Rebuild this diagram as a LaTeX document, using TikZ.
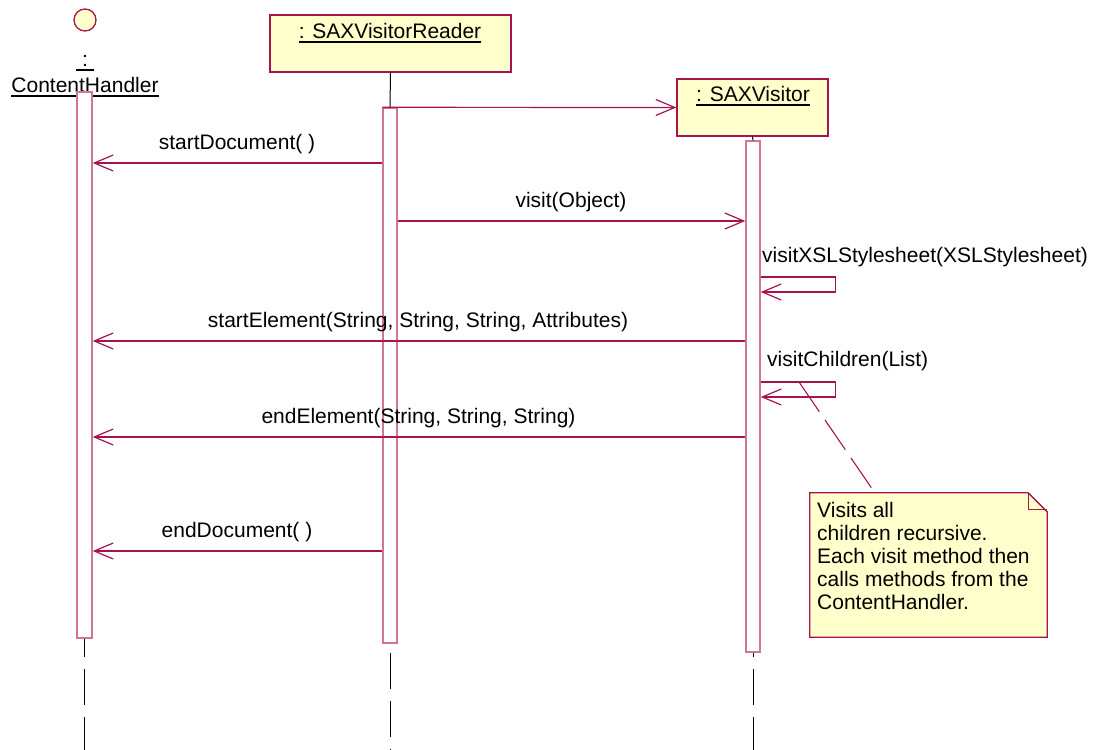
\documentclass[tikz,border=0pt]{standalone}
\usepackage{fontspec}
\setmainfont{Liberation Sans}
\usetikzlibrary{arrows.meta,calc}

\definecolor{umlred}{HTML}{A8124E}
\definecolor{actpink}{HTML}{CF7596}
\definecolor{umlfill}{HTML}{FFFFCC}

\tikzset{
  txt/.style={inner sep=0pt, font=\fontsize{21}{23}\selectfont},
  headbox/.style={draw=umlred, fill=umlfill, line width=1.3pt, inner sep=0pt},
  actbar/.style={draw=actpink, fill=white, line width=1.4pt, inner sep=0pt, minimum width=14pt},
  ulline/.style={black, line width=1.6pt},
  msg/.style={draw=umlred, line width=1.2pt, -{Straight Barb[length=19pt,width=16pt]}},
  selfmsg/.style={draw=umlred, line width=1.2pt, -{Straight Barb[length=19pt,width=16pt]}},
  lifeline/.style={black, line width=1pt},
  lifedash/.style={black, line width=1pt, dash pattern=on 36pt off 12pt},
  notelink/.style={umlred, line width=1.1pt, dash pattern=on 36pt off 10pt},
}

\begin{document}
\begin{tikzpicture}[x=1pt, y=-1pt]
\useasboundingbox (0,0) rectangle (1094,749);

% ---- object heads ----
\node[circle, draw=umlred, fill=umlfill, line width=1.3pt, minimum size=22pt, inner sep=0pt] (chIcon) at (85,20) {};
\node[txt, anchor=base, minimum width=18pt] (chColon) at (85,67) {:};
\node[txt, anchor=base] (chName) at (85,93) {ContentHandler};

\node[headbox, minimum width=241pt, minimum height=57pt] (rdr) at (390.5,43.5) {};
\node[txt, anchor=base] (rdrName) at (390,39) {: SAXVisitorReader};

\node[headbox, minimum width=151pt, minimum height=57pt] (sv) at (752.5,107.5) {};
\node[txt, anchor=base] (svName) at (753,102) {: SAXVisitor};

% underlined object names
\foreach \n in {chColon, chName, rdrName, svName}
  \draw[ulline] ([yshift=-3pt]\n.base west) -- ([yshift=-3pt]\n.base east);

% ---- activation bars ----
\node[actbar, minimum width=15pt, minimum height=546pt] (chAct) at (84.5,365) {};
\node[actbar, minimum height=535pt] (rdAct) at (390,375.5) {};
\node[actbar, minimum height=511pt] (svAct) at (753,396.5) {};

% ---- lifelines ----
\coordinate (bottom) at (0,752);
\draw[lifeline] (rdr.south) -- (rdAct.north);
\draw[lifeline] (sv.south) -- (svAct.north);
\draw[lifedash, dash phase=18pt] (chAct.south) -- (chAct.south |- bottom);
\draw[lifedash, dash phase=39pt] (rdAct.south) -- (rdAct.south |- bottom);
\draw[lifedash, dash phase=32pt] (svAct.south) -- (svAct.south |- bottom);

% ---- message levels ----
\coordinate (m1) at (0,163);
\coordinate (m2) at (0,221);
\coordinate (s1a) at (0,277);
\coordinate (s1b) at (0,292);
\coordinate (m3) at (0,341);
\coordinate (s2a) at (0,382);
\coordinate (s2b) at (0,397);
\coordinate (m4) at (0,437);
\coordinate (m5) at (0,551);

% creation of the visitor
\draw[msg] (rdAct.north west) -- (sv.west);

% startDocument
\draw[msg] (rdAct.west |- m1) -- (chAct.east |- m1);
\node[txt, anchor=base] (lStartDoc) at (237,149) {startDocument( )};

% visit
\draw[msg] (rdAct.east |- m2) -- (svAct.west |- m2);
\node[txt, anchor=base] (lVisit) at (571,207) {visit(Object)};

% visitXSLStylesheet (self call)
\draw[selfmsg] (svAct.east |- s1a) -- ++(75,0) |- (svAct.east |- s1b);
\node[txt, anchor=base west] (lXsl) at (762,262) {visitXSLStylesheet(XSLStylesheet)};

% startElement
\draw[msg] (svAct.west |- m3) -- (chAct.east |- m3);
\node[txt, anchor=base] (lStartEl) at (418,327) {startElement(String, String, String, Attributes)};

% visitChildren (self call)
\draw[selfmsg] (svAct.east |- s2a) -- ++(75,0) |- (svAct.east |- s2b);
\node[txt, anchor=base west] (lChildren) at (767,366) {visitChildren(List)};

% endElement
\draw[msg] (svAct.west |- m4) -- (chAct.east |- m4);
\node[txt, anchor=base] (lEndEl) at (418.5,423) {endElement(String, String, String)};

% endDocument
\draw[msg] (rdAct.west |- m5) -- (chAct.east |- m5);
\node[txt, anchor=base] (lEndDoc) at (237,537) {endDocument( )};

% ---- note ----
\node[minimum width=237pt, minimum height=144pt, inner sep=0pt] (note) at (928.5,565) {};
\draw[umlred, line width=1.3pt, fill=umlfill, line join=miter]
  (note.north west) -- ([xshift=-19pt]note.north east) -- ([yshift=-19pt]note.north east)
  -- (note.south east) -- (note.south west) -- cycle;
\draw[umlred, line width=1.3pt]
  ([xshift=-19pt]note.north east) -- ([xshift=-19pt, yshift=-17pt]note.north east)
  -- ([yshift=-17pt]note.north east);
\node[txt, anchor=north west, align=left] (noteText) at (817,502)
  {Visits all\\children recursive.\\Each visit method then\\calls methods from the\\ContentHandler.};

\coordinate (noteFrom) at (799,382);
\draw[notelink] (noteFrom) -- ([xshift=65pt]note.north west);

\end{tikzpicture}
\end{document}
